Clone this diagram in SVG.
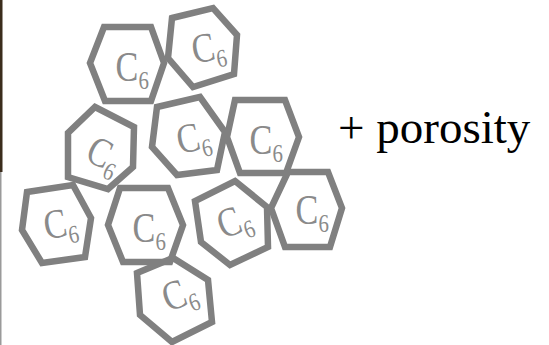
<svg xmlns="http://www.w3.org/2000/svg" width="549" height="345" viewBox="0 0 549 345">
<style>
.hex{fill:none;stroke:#808080;stroke-width:6.5;stroke-linejoin:miter}
.lbl{font-family:"Liberation Serif","Times New Roman",serif;font-size:36px;fill:#8a8a8a}
.sub{font-size:22px}
.plus{font-family:"Liberation Serif","Times New Roman",serif;font-size:47px;fill:#000}
</style>
<rect x="0" y="0" width="549" height="345" fill="#fff"/>
<rect x="0" y="0" width="2.5" height="172" fill="#3b2c1c"/>
<rect x="0" y="172" width="1.5" height="173" fill="#9a9a9a"/>
<g id="hex1"><polygon class="hex" points="104,27 151,27 164,63 151,101 105,101 90,63"/><text class="lbl" x="-12" y="12" transform="translate(127,67) scale(0.95,1.15)">C<tspan class="sub" dy="7">6</tspan></text></g>
<g id="hex2"><polygon class="hex" points="172,18 213,8 237,35 234,74 193,87 168,58"/><text class="lbl" x="-12" y="12" transform="translate(203,48) rotate(-10) scale(0.95,1.15)">C<tspan class="sub" dy="7">6</tspan></text></g>
<g id="hex3"><polygon class="hex" points="95,107 134,127 133,167 108,189 68,177 68,133"/><text class="lbl" x="-12" y="12" transform="translate(100,152) rotate(25) scale(0.95,1.15)">C<tspan class="sub" dy="7">6</tspan></text></g>
<g id="hex4"><polygon class="hex" points="157,107 200,97 225,132 217,170 177,175 152,147"/><text class="lbl" x="-12" y="12" transform="translate(188,138) rotate(-12) scale(0.95,1.15)">C<tspan class="sub" dy="7">6</tspan></text></g>
<g id="hex5"><polygon class="hex" points="235,100 285,100 299,137 286,173 240,173 227,137"/><text class="lbl" x="-12" y="12" transform="translate(261,140) scale(0.95,1.15)">C<tspan class="sub" dy="7">6</tspan></text></g>
<g id="hex6"><polygon class="hex" points="27,192 73,185 91,218 85,257 42,263 22,230"/><text class="lbl" x="-12" y="12" transform="translate(55,224) rotate(-10) scale(0.95,1.15)">C<tspan class="sub" dy="7">6</tspan></text></g>
<g id="hex7"><polygon class="hex" points="120,188 168,188 183,225 170,262 123,262 108,225"/><text class="lbl" x="-12" y="12" transform="translate(144,228) scale(0.95,1.15)">C<tspan class="sub" dy="7">6</tspan></text></g>
<g id="hex8"><polygon class="hex" points="235,181 267,207 268,247 230,265 201,242 195,201"/><text class="lbl" x="-12" y="12" transform="translate(229,222) rotate(-20) scale(0.95,1.15)">C<tspan class="sub" dy="7">6</tspan></text></g>
<g id="hex9"><polygon class="hex" points="288,172 328,172 342,208 330,247 285,247 271,208"/><text class="lbl" x="-12" y="12" transform="translate(307,210) scale(0.95,1.15)">C<tspan class="sub" dy="7">6</tspan></text></g>
<g id="hex10"><polygon class="hex" points="137,273 173,258 208,280 212,322 172,342 140,315"/><text class="lbl" x="-12" y="12" transform="translate(174,295) rotate(-20) scale(0.95,1.15)">C<tspan class="sub" dy="7">6</tspan></text></g>
<g id="porosity"><text class="plus" x="338" y="143">+ porosity</text></g>
<g id="connectors"></g>
</svg>
